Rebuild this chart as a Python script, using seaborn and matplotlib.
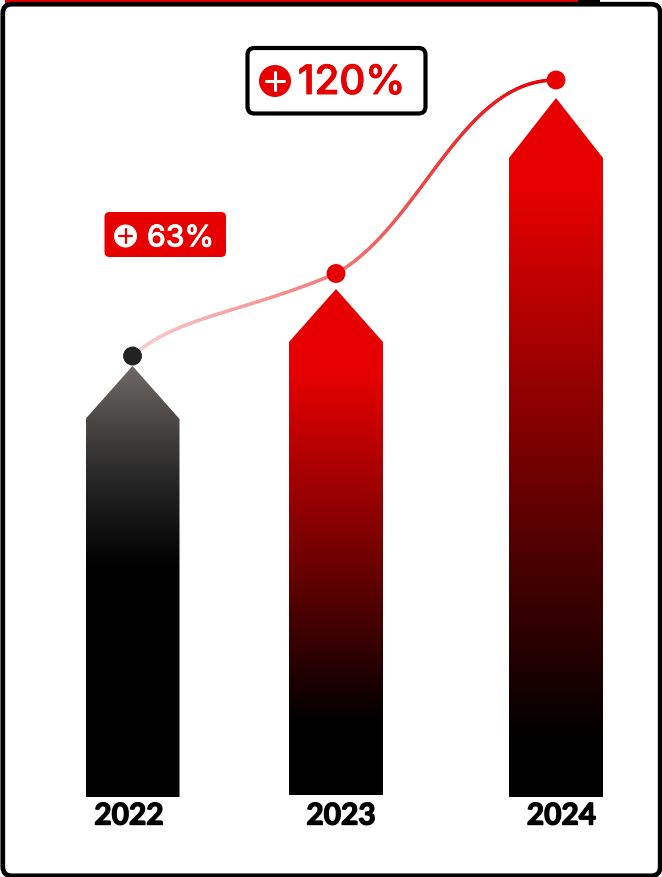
import numpy as np
import pandas as pd
import matplotlib
matplotlib.use("Agg")
import matplotlib.pyplot as plt
import matplotlib.patheffects as pe
from matplotlib.collections import LineCollection
from matplotlib.colors import LinearSegmentedColormap
from matplotlib.patches import FancyBboxPatch, Polygon, Circle, Rectangle
import seaborn as sns

# Chart values
years = ["2022", "2023", "2024"]
bar_x = [132.5, 336.0, 556.0]
bar_heights = [431, 508, 699]
bar_bases = [0, 1.5, 0]
point_heights = [441, 523.5, 717]
point_colors = ["#222222", "#e60000", "#e60000"]
growth_labels = ["63%", "120%"]

RED = "#e60000"
BASE_Y = 797
W, H = 662, 877

sns.set_theme(style="white")
fig = plt.figure(figsize=(W / 100, H / 100), dpi=100)
ax = fig.add_axes([0, 0, 1, 1])
ax.set_xlim(0, W)
ax.set_ylim(BASE_Y - H, BASE_Y)
ax.axis("off")


def y_px(p):
    """Convert a distance from the top edge to the axis scale."""
    return BASE_Y - p


# Outer card with a thin red strip peeking out along the top
ax.add_patch(Rectangle((5, y_px(4)), 577, 4, color=RED, lw=0, zorder=0))
ax.add_patch(Rectangle((578, y_px(4)), 22, 4, color="black", lw=0, zorder=0))
ax.add_patch(FancyBboxPatch((2.8, y_px(875.8)), 657.4, 871.6, boxstyle="round,pad=0,rounding_size=9",
                            fc="white", ec="black", lw=3.4, zorder=1))

# Bars come from seaborn; each one is then reshaped into an arrow with a gradient fill
df = pd.DataFrame({"x": bar_x, "h": bar_heights, "year": years})
sns.barplot(data=df, x="x", y="h", native_scale=True, width=94 / (bar_x[1] - bar_x[0]),
            color="white", ax=ax, zorder=1.5, legend=False, errorbar=None)
ax.set_xlim(0, W)
ax.set_ylim(BASE_Y - H, BASE_Y)
ax.axis("off")

head_heights = [53, 53, 60]
gradients = [
    [(0.0, "#6e6966"), (0.125, "#4a4746"), (0.3, "#1f1f1f"), (0.47, "#000000"), (1.0, "#000000")],
    [(0.0, RED), (0.17, RED), (0.5, "#7c0000"), (0.86, "#000000"), (1.0, "#000000")],
    [(0.0, RED), (0.13, RED), (0.5, "#7a0000"), (0.92, "#000000"), (1.0, "#000000")],
]
for x0, h, base, head, stops in zip(bar_x, bar_heights, bar_bases, head_heights, gradients):
    half = 47
    pts = [(x0 - half, base), (x0 - half, h - head), (x0, h), (x0 + half, h - head), (x0 + half, base)]
    clip = Polygon(pts, closed=True, transform=ax.transData, fc="none", ec="none")
    ax.add_patch(clip)
    cmap = LinearSegmentedColormap.from_list("fade", stops)
    im = ax.imshow(np.linspace(0, 1, 512)[:, None], cmap=cmap, aspect="auto",
                   extent=(x0 - half, x0 + half, base, h), origin="upper", zorder=2)
    im.set_clip_path(clip)
ax.set_xlim(0, W)
ax.set_ylim(BASE_Y - H, BASE_Y)

# Year labels beneath the bars
for x0, year, dx in zip(bar_x, years, [-3.5, 5, 5.5]):
    ax.text(x0 + dx, y_px(815.5), year, ha="center", va="center", fontsize=21.5,
            family="Lato", fontweight="bold", color="black", zorder=5,
            path_effects=[pe.withStroke(linewidth=1.0, foreground="black")])


def bezier(p0, c0, c1, p1, n=160):
    t = np.linspace(0, 1, n)[:, None]
    p0, c0, c1, p1 = map(np.array, (p0, c0, c1, p1))
    return (1 - t) ** 3 * p0 + 3 * (1 - t) ** 2 * t * c0 + 3 * (1 - t) * t ** 2 * c1 + t ** 3 * p1


# Growth curve through the three points, deepening in colour from left to right
p = list(zip(bar_x, point_heights))
seg_a = bezier(p[0], (p[0][0] + 45, p[0][1] + 40), (p[1][0] - 95, p[1][1] - 40), p[1])
seg_b = bezier(p[1], (p[1][0] + 85, p[1][1] + 48), (p[2][0] - 95, p[2][1]), p[2])
curve = np.vstack([seg_a, seg_b[1:]])
segments = np.stack([curve[:-1], curve[1:]], axis=1)
pos = np.linspace(0, 1, len(segments))
line_cmap = LinearSegmentedColormap.from_list("curve", ["#fbd0d0", "#f6a0a0", "#ee5050", RED])
ax.add_collection(LineCollection(segments, colors=line_cmap(pos), linewidths=2.4,
                                 capstyle="round", zorder=3))

sns.scatterplot(x=bar_x, y=point_heights, c=point_colors, s=185, linewidth=0, ax=ax, zorder=4)
ax.set_xlim(0, W)
ax.set_ylim(BASE_Y - H, BASE_Y)


def plus_icon(cx, cy, r, bg, fg, lw):
    ax.add_patch(Circle((cx, y_px(cy)), r, fc=bg, ec="none", zorder=6))
    arm = r * 0.58
    ax.plot([cx - arm, cx + arm], [y_px(cy)] * 2, color=fg, lw=lw, zorder=7, solid_capstyle="round")
    ax.plot([cx, cx], [y_px(cy) - arm, y_px(cy) + arm], color=fg, lw=lw, zorder=7, solid_capstyle="round")


# Red badge: +63%
ax.add_patch(FancyBboxPatch((104.5, y_px(257)), 121.5, 45, boxstyle="round,pad=0,rounding_size=5",
                            fc=RED, ec="none", zorder=5))
plus_icon(125.5, 236, 11.5, "white", RED, 1.6)
ax.text(180.5, y_px(238.5), growth_labels[0], ha="center", va="center", fontsize=21.5,
        family="Inter", fontweight="medium", color="white", zorder=6,
        path_effects=[pe.withStroke(linewidth=0.5, foreground="white")])

# Outlined badge: +120%
ax.add_patch(FancyBboxPatch((247.5, y_px(113.5)), 178, 65.5, boxstyle="round,pad=0,rounding_size=7",
                            fc="white", ec="black", lw=3.0, zorder=5))
plus_icon(275, 81, 16, RED, "white", 2.2)
ax.text(351.5, y_px(83.5), growth_labels[1], ha="center", va="center", fontsize=29,
        family="Inter", fontweight="medium", color=RED, zorder=6,
        path_effects=[pe.withStroke(linewidth=0.7, foreground=RED)])

fig.savefig("out.png", dpi=100, facecolor="white")
